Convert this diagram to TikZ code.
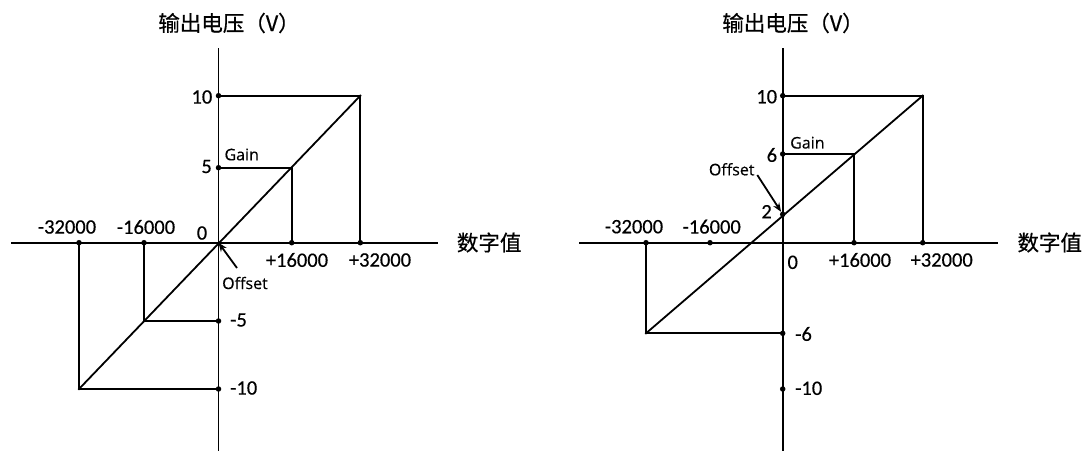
\documentclass[tikz,border=0pt]{standalone}
\usepackage{fontspec}
\newfontfamily\cjk[FakeBold=0.6]{Noto Sans CJK SC}
\newfontfamily\numf[FakeBold=0.4]{Carlito}
\newfontfamily\latf[FakeBold=0.3]{Open Sans}
\usetikzlibrary{arrows.meta}
\tikzset{
  ln/.style={line width=1.8pt, line cap=rect},
  dotn/.style={circle, fill=black, inner sep=0pt, minimum size=5.5pt},
  numlab/.style={inner sep=0pt, font=\numf\fontsize{20.5}{24}\selectfont},
  wlab/.style={inner sep=0pt, font=\latf\fontsize{16}{19}\selectfont},
  cjklab/.style={inner sep=0pt, font=\cjk\fontsize{21.5}{25}\selectfont},
  arr/.style={line width=1.8pt, -{Stealth[length=9pt,width=7pt]}}
}
\begin{document}
\begin{tikzpicture}[x=1pt,y=-1pt]
\useasboundingbox (0,0) rectangle (1092,450);
% ================= LEFT =================
\coordinate (La1) at (218.5,49);
\coordinate (La2) at (218.5,450);
\coordinate (Lb1) at (12,242.7);
\coordinate (Lb2) at (437,242.7);
\coordinate (LO) at (218.5,242.7);
\draw[ln] (La1) -- (La2);
\draw[ln] (Lb1) -- (Lb2);
\node[dotn] (Ly10) at (218.5,95.7) {};
\node[dotn] (Ly5) at (218.5,167.7) {};
\node[dotn] (Lym5) at (218.5,321) {};
\node[dotn] (Lym10) at (218.5,389) {};
\node[dotn] (Lx16) at (291.7,242.7) {};
\node[dotn] (Lx32) at (360.3,242.7) {};
\node[dotn] (Lxm16) at (144,242.7) {};
\node[dotn] (Lxm32) at (79,242.7) {};
\coordinate (LP32) at (360.3,95.7);
\coordinate (LP16) at (291.7,167.7);
\coordinate (LPm16) at (144,321);
\coordinate (LPm32) at (79,389);
\draw[ln] (Ly10.center) -- (LP32) -- (Lx32.center);
\draw[ln] (Ly5.center) -- (LP16) -- (Lx16.center);
\draw[ln] (Lxm16.center) -- (LPm16) -- (Lym5.center);
\draw[ln] (Lxm32.center) -- (LPm32) -- (Lym10.center);
\draw[ln] (LPm32) -- (LP32);
\node[cjklab] (Ltitle) at (229,23) {输出电压（V）};
\node[cjklab, anchor=west] (Lxt) at (456.7,242.5) {数字值};
\node[numlab, anchor=east] (Lt10) at (212.5,97) {10};
\node[numlab, anchor=east] (Lt5) at (212,166.5) {5};
\node[wlab, anchor=west] (LGain) at (224.3,154.5) {Gain};
\node[numlab] (Lt0) at (202,233) {0};
\node[numlab] (Ltm32) at (67,227) {-32000};
\node[numlab] (Ltm16) at (146,227) {-16000};
\node[numlab] (Lt16) at (297,260) {+16000};
\node[numlab] (Lt32) at (380,260) {+32000};
\node[wlab, anchor=west] (LOff) at (222,283) {Offset};
\node[numlab, anchor=west] (Ltm5) at (230,320) {-5};
\node[numlab, anchor=west] (Ltm10) at (230,388) {-10};
\coordinate (LArS) at (237,268);
\draw[arr] (LArS) -- (LO);
% ================= RIGHT =================
\coordinate (Ra1) at (782.7,49);
\coordinate (Ra2) at (782.7,450);
\coordinate (Rb1) at (580,242.7);
\coordinate (Rb2) at (997,242.7);
\draw[ln] (Ra1) -- (Ra2);
\draw[ln] (Rb1) -- (Rb2);
\node[dotn] (Ry10) at (782.7,95.7) {};
\node[dotn] (Ry6) at (782.7,154) {};
\node[dotn] (Ry2) at (782.7,214.3) {};
\node[dotn] (Rym6) at (782.7,333.3) {};
\node[dotn] (Rym10) at (782.7,389) {};
\node[dotn] (Rx16) at (854,242.7) {};
\node[dotn] (Rx32) at (922.7,242.7) {};
\node[dotn] (Rxm16) at (710,242.7) {};
\node[dotn] (Rxm32) at (646,242.7) {};
\coordinate (RP32) at (922.7,95.7);
\coordinate (RP16) at (854,154);
\coordinate (RPm32) at (646,333.3);
\draw[ln] (Ry10.center) -- (RP32) -- (Rx32.center);
\draw[ln] (Ry6.center) -- (RP16) -- (Rx16.center);
\draw[ln] (Rxm32.center) -- (RPm32) -- (Rym6.center);
\draw[ln] (RPm32) -- (RP32);
\node[cjklab] (Rtitle) at (793,23) {输出电压（V）};
\node[cjklab, anchor=west] (Rxt) at (1017.3,242.5) {数字值};
\node[numlab, anchor=east] (Rt10) at (777.3,96.7) {10};
\node[numlab, anchor=east] (Rt6) at (777.3,155) {6};
\node[wlab, anchor=west] (RGain) at (790,142.7) {Gain};
\node[wlab] (ROff) at (731.7,169.3) {Offset};
\node[numlab, anchor=east] (Rt2) at (772,211.7) {2};
\node[numlab] (Rtm32) at (634,226.7) {-32000};
\node[numlab] (Rtm16) at (711.7,226.7) {-16000};
\node[numlab] (Rt0) at (792.7,262.3) {0};
\node[numlab] (Rt16) at (860,260) {+16000};
\node[numlab] (Rt32) at (941.7,260) {+32000};
\node[numlab, anchor=west] (Rtm6) at (795,334) {-6};
\node[numlab, anchor=west] (Rtm10) at (795,388.3) {-10};
\coordinate (RArS) at (757.3,175);
\draw[arr] (RArS) -- (Ry2);
\end{tikzpicture}
\end{document}
